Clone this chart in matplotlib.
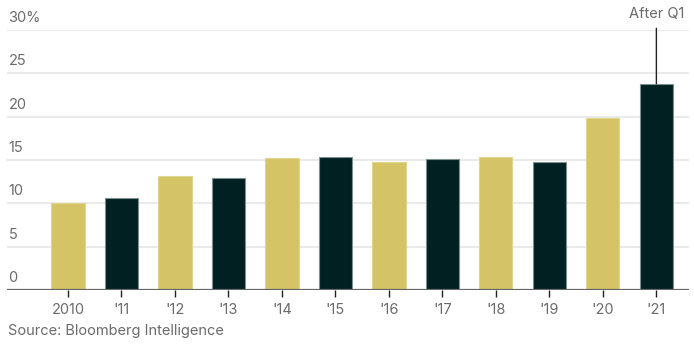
import matplotlib
matplotlib.use("Agg")
import matplotlib.pyplot as plt

years = ["2010", "'11", "'12", "'13", "'14", "'15", "'16", "'17", "'18", "'19", "'20", "'21"]
shares = [10.0, 10.6, 13.2, 12.9, 15.2, 15.3, 14.8, 15.1, 15.35, 14.8, 19.9, 23.8]
y_ticks = [0, 5, 10, 15, 20, 25, 30]
y_labels = ["0", "5", "10", "15", "20", "25", "30%"]

GOLD = "#d4c466"
DARK = "#002021"
TEXT = "#6b6b6b"

plt.rcParams["font.family"] = ["Inter", "DejaVu Sans"]
FS = 10.5

fig = plt.figure(figsize=(6.94, 3.49), dpi=100)
ax = fig.add_axes([0.0101, 0.169, 0.9827, 0.745])

x = list(range(len(years)))
colors = [GOLD if i % 2 == 0 else DARK for i in x]
edges = ["#e0d690" if i % 2 == 0 else "#7d8f8f" for i in x]
ax.bar(x, shares, width=0.62, color=colors, edgecolor=edges, linewidth=0.8, zorder=3)

ax.set_xlim(-1.14, 11.61)
ax.set_ylim(0, 30)

# gridlines + left-aligned labels above them
for t, lab in zip(y_ticks, y_labels):
    if t > 0:
        ax.axhline(t, color="#e6e6e6", linewidth=1.2, zorder=1)
    ax.annotate(lab, xy=(0, t), xycoords=("axes fraction", "data"),
                xytext=(1, 3.5), textcoords="offset points",
                ha="left", va="bottom", fontsize=FS, color=TEXT)
ax.axhline(0, color="#666666", linewidth=1.6, zorder=4)

ax.set_yticks([])
ax.set_xticks(x)
ax.set_xticklabels(years, fontsize=FS, color=TEXT)
ax.tick_params(axis="x", length=5, width=1, color="#222222", pad=4)
for s in ax.spines.values():
    s.set_visible(False)

# annotation on the last bar
ax.annotate("After Q1", xy=(x[-1], shares[-1]), xytext=(x[-1], 31.0),
            ha="center", va="bottom", fontsize=FS, color=TEXT,
            arrowprops=dict(arrowstyle="-", color="#222222", lw=1,
                            shrinkA=3, shrinkB=0),
            annotation_clip=False)

fig.text(0.0115, 0.052, "Source: Bloomberg Intelligence", fontsize=FS,
         color=TEXT, ha="left", va="center")

fig.savefig("out.png", dpi=100)
